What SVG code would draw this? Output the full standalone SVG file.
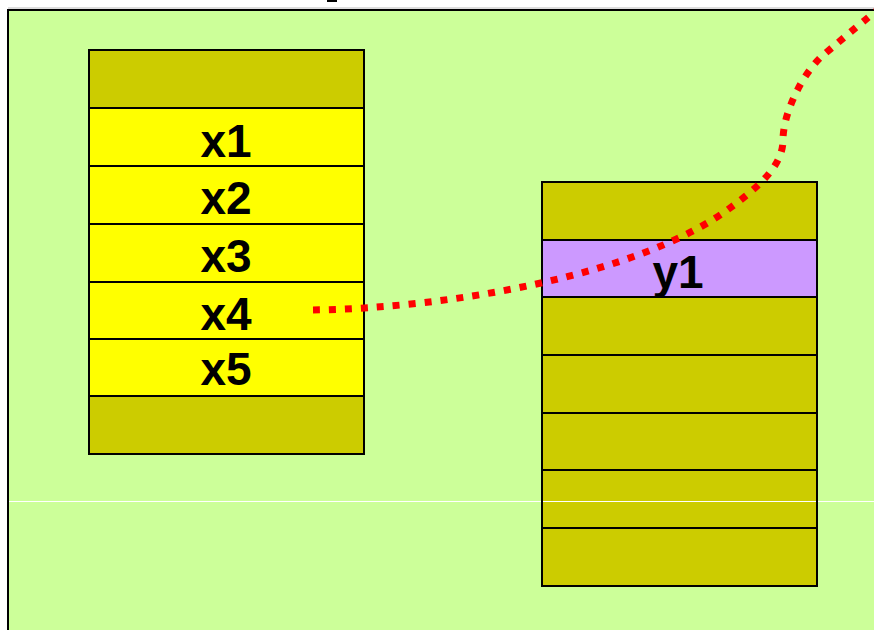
<svg xmlns="http://www.w3.org/2000/svg" width="874" height="630" viewBox="0 0 874 630">
<style>
.cell{stroke:#000;stroke-width:2}
.olive{fill:#CCCC00}
.yel{fill:#FFFF00}
.pur{fill:#CC99FF}
.lbl{font-family:"Liberation Sans",Arial,sans-serif;font-weight:bold;font-size:46px;fill:#000;text-anchor:middle}
</style>
<rect x="0" y="0" width="874" height="630" fill="#fff"/>
<rect x="327" y="0" width="10" height="2" fill="#000"/>
<line x1="8" y1="8" x2="874" y2="8" stroke="#bbb" stroke-width="1"/>
<rect x="8" y="10" width="880" height="640" fill="#CCFF99" stroke="#000" stroke-width="2"/>
<g id="left-stack">
<rect class="cell olive" x="89" y="50" width="275" height="58"/>
<g id="x1"><rect class="cell yel" x="89" y="108" width="275" height="58"/><text class="lbl" x="226" y="157">x1</text></g>
<g id="x2"><rect class="cell yel" x="89" y="166" width="275" height="58"/><text class="lbl" x="226" y="214">x2</text></g>
<g id="x3"><rect class="cell yel" x="89" y="224" width="275" height="58"/><text class="lbl" x="226" y="272">x3</text></g>
<g id="x4"><rect class="cell yel" x="89" y="282" width="275" height="57"/><text class="lbl" x="226" y="330">x4</text></g>
<g id="x5"><rect class="cell yel" x="89" y="339" width="275" height="57"/><text class="lbl" x="226" y="385">x5</text></g>
<rect class="cell olive" x="89" y="396" width="275" height="58"/>
</g>
<g id="right-stack">
<rect class="cell olive" x="542" y="182" width="275" height="58"/>
<g id="y1"><rect class="cell pur" x="542" y="240" width="275" height="57"/><text class="lbl" x="678" y="288">y1</text></g>
<rect class="cell olive" x="542" y="297" width="275" height="58"/>
<rect class="cell olive" x="542" y="355" width="275" height="58"/>
<rect class="cell olive" x="542" y="413" width="275" height="57"/>
<rect class="cell olive" x="542" y="470" width="275" height="58"/>
<rect class="cell olive" x="542" y="528" width="275" height="58"/>
</g>
<g id="guide" stroke="#fff" stroke-width="1">
<line x1="9" y1="501.5" x2="541" y2="501.5"/>
<line x1="543" y1="501.5" x2="816" y2="501.5"/>
<line x1="818" y1="501.5" x2="874" y2="501.5"/>
</g>
<g id="connectors">
<path d="M313,310 C450,308 640,275 730,208 C760,186 783,165 783,140 C783,115 800,78 820,58 C835,45 855,28 880,8" fill="none" stroke="#FF0000" stroke-width="7" stroke-dasharray="7 9"/>
</g>
</svg>
